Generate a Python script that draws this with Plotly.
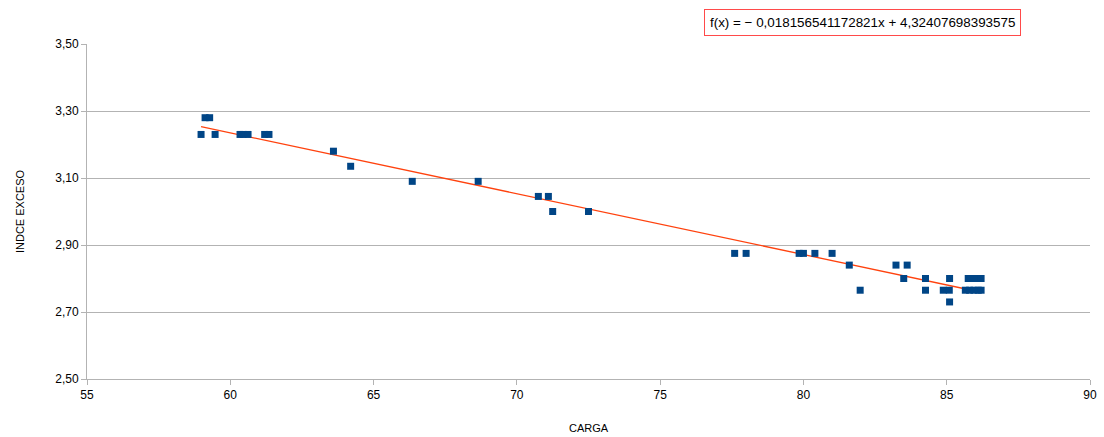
import plotly.graph_objects as go

# Data
carga = [58.98, 59.12, 59.28, 59.47, 60.34, 60.45, 60.62, 61.2, 61.35,
         63.6, 64.2, 66.35, 68.65, 70.75, 71.1, 71.25, 72.5,
         77.6, 78.0, 79.85, 80.0, 80.4, 81.0, 81.6, 81.98,
         83.23, 83.5, 83.62, 84.26, 84.26, 84.88, 85.09, 85.1, 85.1,
         85.75, 85.9, 86.05, 86.2, 85.65, 85.8, 85.95, 86.1, 86.2]
indice = [3.23, 3.28, 3.28, 3.23, 3.23, 3.23, 3.23, 3.23, 3.23,
          3.18, 3.135, 3.09, 3.09, 3.045, 3.045, 3.00, 3.00,
          2.875, 2.875, 2.875, 2.875, 2.875, 2.875, 2.84, 2.765,
          2.84, 2.80, 2.84, 2.80, 2.765, 2.765, 2.765, 2.80, 2.73,
          2.80, 2.80, 2.80, 2.80, 2.765, 2.765, 2.765, 2.765, 2.765]

slope = -0.018156541172821
intercept = 4.32407698393575
x_ticks = [55, 60, 65, 70, 75, 80, 85, 90]
y_ticks = [2.5, 2.7, 2.9, 3.1, 3.3, 3.5]

x_fit = [min(carga), max(carga)]
y_fit = [slope * v + intercept for v in x_fit]

fig = go.Figure()
fig.add_trace(go.Scatter(x=x_fit, y=y_fit, mode="lines",
                         line=dict(color="#ff420e", width=1.3),
                         showlegend=False, hoverinfo="skip"))
fig.add_trace(go.Scatter(x=carga, y=indice, mode="markers",
                         marker=dict(symbol="square", size=7, color="#004586"),
                         showlegend=False))

fam = "Liberation Sans, Arial, sans-serif"
axis_font = dict(family=fam, size=12, color="#000000")
fig.update_layout(
    width=1104, height=437,
    margin=dict(l=87, r=14, t=44, b=58),
    paper_bgcolor="white", plot_bgcolor="white",
    separators=", ",
    font=axis_font,
    xaxis=dict(range=[55, 90], tickvals=x_ticks, showgrid=False,
               showline=True, linecolor="#b3b3b3", linewidth=1,
               ticks="outside", ticklen=5, tickcolor="#b3b3b3",
               zeroline=False, tickfont=axis_font, automargin=False,
               title=dict(text="CARGA", font=dict(size=11, family=fam), standoff=22)),
    yaxis=dict(range=[2.5, 3.5], tickvals=y_ticks, tickformat=".2f",
               showgrid=True, gridcolor="#b3b3b3", gridwidth=1,
               showline=True, linecolor="#b3b3b3", linewidth=1,
               ticks="outside", ticklen=5, tickcolor="#b3b3b3",
               zeroline=False, tickfont=axis_font, automargin=False,
               title=dict(text="INDCE EXCESO", font=dict(size=11, family=fam), standoff=28)),
    annotations=[dict(
        text=f"f(x) = − {abs(slope):.15f}x + {intercept:.14f}".replace(".", ","),
        xref="paper", yref="paper", x=0.773, y=1.063,
        xanchor="center", yanchor="middle", showarrow=False,
        font=dict(size=13.4, family=fam, color="#000000"),
        bordercolor="#ff4a4a", borderwidth=1, borderpad=5, bgcolor="white")],
)

fig.write_html("out.html")
